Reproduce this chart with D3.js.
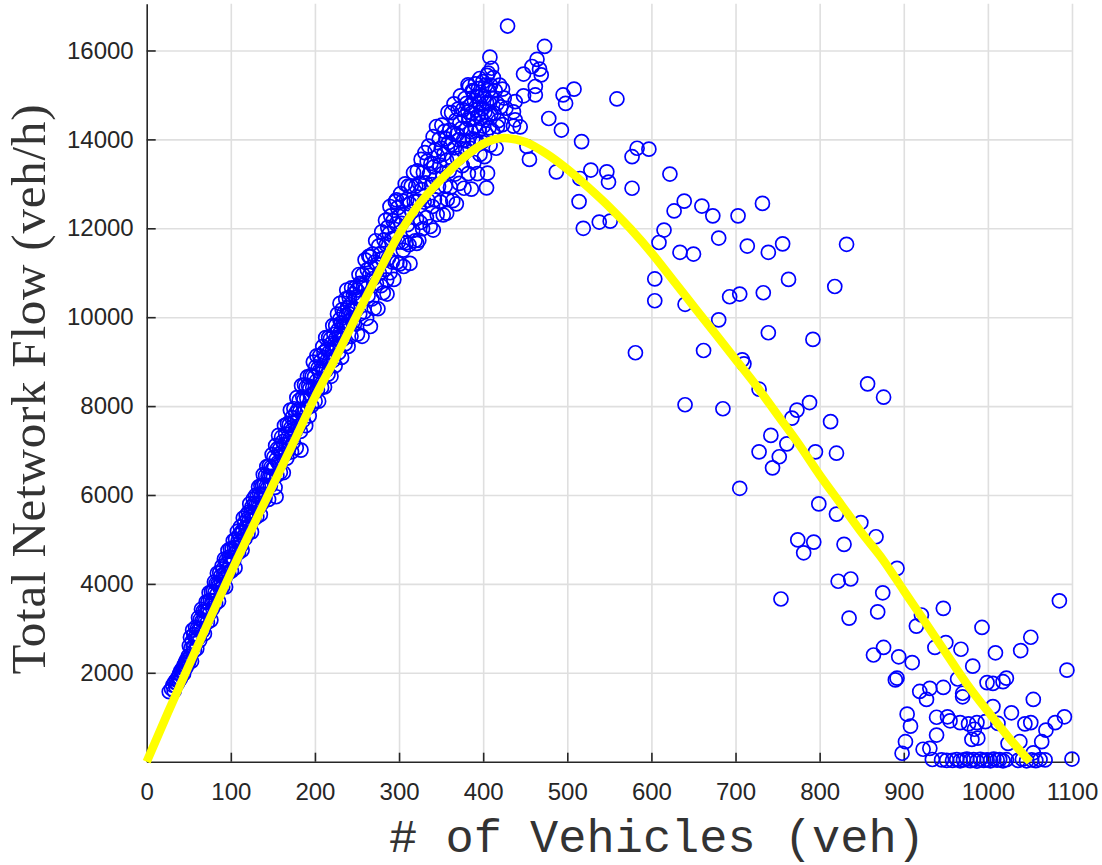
<!DOCTYPE html>
<html>
<head>
<meta charset="utf-8">
<script src="https://cdn.jsdelivr.net/npm/d3@7"></script>
<style>
  html, body { margin: 0; padding: 0; background: #ffffff; }
  svg { display: block; }
</style>
</head>
<body>
<svg id="chart" width="1102" height="865"></svg>
<script>
// Axis tick values
const xTickValues = [0, 100, 200, 300, 400, 500, 600, 700, 800, 900, 1000, 1100];
const yTickValues = [2000, 4000, 6000, 8000, 10000, 12000, 14000, 16000];

// Fitted macroscopic fundamental diagram (vehicles, veh/h)
const fitVehicles = [0, 25, 50, 75, 100, 125, 150, 175, 200, 225, 250, 275, 300, 325, 350, 375, 400, 425,
  450, 475, 500, 525, 550, 575, 600, 625, 650, 675, 700, 725, 750, 775, 800, 825, 850, 875, 900, 925,
  950, 975, 1000, 1025, 1050];
const fitFlow = [0, 1095, 2160, 3210, 4250, 5245, 6220, 7200, 8200, 9100, 10050, 10975, 11870, 12570, 13100,
  13560, 13900, 14030, 13940, 13680, 13330, 12920, 12480, 11990, 11450, 10850, 10250, 9650, 9050, 8450,
  7800, 7150, 6450, 5800, 5150, 4550, 3850, 3150, 2450, 1750, 1130, 540, 0];

// Observed samples on the loading branch [vehicles, flow]
const loadingSamples = [
  [26.8,1575],[29.5,1640],[31.0,1720],[32.6,1590],[33.4,1790],[34.5,1700],[35.6,1850],[36.3,1760],[37.4,1900],
  [38.2,1820],[39.1,1980],[39.9,1870],[40.8,2050],[41.5,1930],[42.3,2010],[43.2,2110],[43.9,1980],[44.7,2180],
  [45.5,2090],[46.2,2240],[47.0,2130],[47.8,2300],[48.5,2200],[49.3,2370],[50.0,2250],
  [50.7,2610],[51.3,2335],[52.0,2800],[52.6,2550],[53.3,2260],[54.0,2710],[54.6,2960],[55.3,2570],[56.0,2860],
  [56.7,2500],[57.4,2800],[58.1,3020],[58.8,2760],[59.5,2540],
  [60.2,2990],[60.9,2770],[61.6,3240],[62.3,2980],[63.0,2730],[63.7,3200],[64.4,3000],[65.1,3430],[65.8,3170],
  [66.5,2940],[67.2,3390],[67.9,3180],[68.6,2880],[69.3,3390],
  [70.0,3180],[70.7,3590],[71.4,3380],[72.1,3130],[72.8,3590],[73.5,3400],[74.2,3800],[74.9,3340],[75.6,3630],
  [76.3,3185],[77.0,3820],[77.7,3610],[78.4,3450],[79.1,3830],[79.8,3620],
  [80.5,4040],[81.2,3810],[81.9,3560],[82.6,4010],[83.3,3760],[84.0,4240],[84.7,4000],[85.4,3610],[86.1,3970],
  [86.8,4250],[87.5,3890],[88.2,4180],[88.9,4030],[89.6,4400],
  [90.3,3930],[91.0,4340],[91.7,4220],[92.4,4560],[93.1,4140],[93.8,3930],[94.5,4530],[95.2,4310],[95.9,4460],
  [96.6,4750],[97.3,4250],[98.0,4600],[98.7,4420],[99.4,4790],
  [100.1,4580],[100.8,4290],[101.5,4790],[102.2,4590],[102.9,4970],[103.6,4530],[104.3,4820],[105.0,4360],
  [105.7,5010],[106.4,4810],[107.1,4720],[107.8,5180],[108.5,4960],[109.2,4700],[109.9,5100],
  [110.6,4930],[111.3,5280],[112.0,4860],[112.7,5170],[113.4,4760],[114.1,5160],[114.8,5480],[115.5,5070],
  [116.2,5370],[116.9,5020],[117.6,5270],[118.3,5540],[119.0,5240],[119.7,5460],
  [120.4,5130],[121.1,5610],[121.8,5420],[122.5,5800],[123.2,5340],[123.9,5590],[124.6,5170],[125.3,5740],
  [126.0,5530],[126.7,5910],[127.4,5460],[128.1,5810],[128.8,5600],[129.5,5990],
  [130.2,5780],[130.9,5510],[131.6,5970],[132.3,5770],[133.0,6180],[133.7,5730],[134.4,6020],[135.1,5560],
  [135.8,6210],[136.5,5980],[137.2,5820],[137.9,6210],[138.6,6460],[139.3,6020],
  [140.0,6230],[140.7,5930],[141.4,6440],[142.1,6190],[142.8,6640],[143.5,6150],[144.2,6420],[144.9,5900],
  [145.6,6650],[146.3,6410],[147.0,6210],[147.7,6620],[148.4,6420],[149.1,6910],[149.8,6590],
  [150.5,6390],[151.2,6850],[151.9,6620],[152.6,6170],[153.3,7110],[153.8,5960],[154.0,6800],[154.7,6440],
  [155.4,7040],[156.1,6730],[156.8,7340],[157.5,6700],[158.2,7040],[158.9,6510],[159.6,6950],
  [160.3,7300],[161.0,6890],[161.7,7200],[162.4,6500],[163.1,7140],[163.8,7560],[164.5,6910],[165.2,7370],
  [165.9,7140],[166.6,6830],[167.3,7600],[168.0,7300],[168.7,7040],[169.4,7580],
  [170.1,7250],[170.8,7910],[171.5,7510],[172.2,6970],[172.9,7740],[173.6,7470],[174.3,7190],[175.0,7940],
  [175.7,7640],[176.4,7430],[177.1,7840],[177.8,7060],[178.5,8190],[179.2,7670],[179.9,7920],
  [180.6,7550],[181.3,8130],[182.0,7880],[182.7,7430],[183.4,7010],[184.1,8460],[184.8,7840],[185.5,8210],
  [186.2,7680],[186.9,8140],[187.6,8480],[188.3,7930],[189.0,7560],[189.7,8430],
  [190.4,8170],[191.1,8660],[191.8,7970],[192.5,8450],[193.2,7780],[193.9,8390],[194.6,8680],[195.3,8230],
  [196.0,8010],[196.7,8670],[197.4,8420],[198.1,8990],[198.8,8300],[199.5,8660],
  [200.2,8110],[200.9,8880],[201.6,8560],[202.3,9130],[203.0,8360],[203.7,8850],[204.4,8110],[205.1,8780],
  [205.8,9130],[206.5,8610],[207.2,9020],[207.9,8420],[208.6,8850],[209.3,9340],
  [210.0,8800],[210.7,9210],[211.4,8430],[212.1,9090],[212.8,9540],[213.5,8810],[214.2,9280],[214.9,9040],
  [215.6,8720],[216.3,9540],[217.0,9210],[217.7,9020],[218.4,9510],[219.1,8670],[219.8,9410],
  [220.5,9220],[221.2,9810],[221.9,9030],[222.6,9610],[223.3,9390],[224.0,8910],[224.7,9810],[225.4,9540],
  [226.1,9300],[226.8,10070],[227.5,9710],[228.2,9200],[228.9,9620],[229.6,9950],[229.8,10312],
  [230.3,9490],[231.0,9870],[231.7,9095],[232.4,10170],[233.1,9820],[233.8,9510],[234.5,10100],[235.2,9810],
  [235.9,9400],[236.6,10410],[237.3,10040],[237.8,10612],[238.0,9810],[238.7,10210],[239.4,9340],
  [240.1,10080],[240.8,10440],[241.5,9840],[242.2,10280],[242.9,9570],[243.6,10660],[244.3,10180],[245.0,9890],
  [245.7,10520],[246.4,10190],[247.1,9860],[247.8,10660],[248.5,10440],[249.2,10170],[249.9,10610],
  [250.6,9620],[251.5,10410],[252.4,10960],[253.3,10070],[253.6,10760],[254.2,10730],[255.1,10390],[256.0,9570],
  [256.9,10960],[257.8,10720],[258.7,10120],[259.6,11290],
  [260.5,10640],[261.4,9970],[262.3,11070],[263.2,10490],[264.1,11370],[265.0,10940],[265.5,11360],[265.9,9790],
  [266.8,11120],[267.7,10410],[268.6,11420],[269.5,10870],
  [270.4,10200],[271.3,11240],[272.2,11720],[273.1,10760],[274.0,11190],[274.9,10190],[275.8,11600],
  [276.7,10990],[277.6,11420],[278.5,10710],[279.4,11920],
  [280.3,11320],[281.2,10550],[282.1,11740],[283.0,11070],[283.9,12180],[284.8,11630],[285.3,10840],
  [285.7,10520],[286.6,12020],[287.5,11330],[288.4,11880],[289.2,12490],[289.3,11000],
  [290.2,12280],[291.1,11760],[292.0,11240],[292.9,12170],[293.8,10850],[294.7,11790],[295.6,12600],
  [296.5,12100],[297.0,12640],[297.4,11230],[298.3,12460],[299.2,11690],
  [300.1,12270],[301.0,11200],[301.9,12780],[302.8,12110],[303.7,11690],[304.6,12610],[305.0,11510],
  [305.5,11140],[306.4,12320],[307.3,13000],[308.2,11670],[309.1,12650],
  [310.0,12080],[310.9,12950],[311.8,11630],[312.7,12550],[313.0,11210],[314.5,12950],[315.4,12380],
  [316.3,11950],[317.2,13250],[318.1,12600],[319.0,11720],[319.9,12950],
  [320.8,12220],[321.0,11660],[321.7,13290],[322.6,12610],[323.5,11730],[324.4,13010],[325.3,12130],
  [326.2,13550],[327.1,12870],[328.0,11990],[328.9,13260],[329.8,12590],
  [330.7,13700],[331.6,13020],[332.5,12240],[333.4,13510],[334.3,12630],[335.2,13850],[336.1,13220],
  [337.0,12040],[337.9,13460],[338.8,12980],[339.7,12490],
  [340.5,14060],[340.7,11960],[341.3,13380],[342.1,12640],[342.9,13760],[343.7,13120],[344.5,14290],
  [345.3,12310],[346.1,13620],[346.9,12940],[347.7,14000],[348.5,13420],[349.3,12590],
  [350.1,13800],[350.9,14320],[351.7,13230],[352.5,12300],[353.3,13670],[354.1,14180],[354.9,12950],
  [355.7,14010],[356.5,13530],[356.6,12340],[357.3,12650],[358.1,14610],[358.9,13930],[359.7,13290],
  [360.4,14210],[361.1,12920],[361.8,13880],[362.5,14600],[363.2,13560],[363.9,12620],[364.6,14130],
  [365.3,14800],[366.0,13810],[366.7,13220],[367.4,14430],[368.1,12550],[368.8,14110],[369.5,13570],
  [370.2,14680],[370.9,13990],[371.6,13010],[372.3,14370],[373.0,14980],[373.7,13790],[374.4,14250],
  [375.1,13410],[375.8,14670],[376.5,13980],[377.2,12900],[377.9,14510],[378.6,14920],[379.3,13780],
  [380.0,14240],[380.4,14810],[381.2,13960],[381.8,14620],[382.0,15225],[382.4,13230],[383.0,14440],
  [383.6,15190],[384.2,13800],[384.8,14760],[385.4,14170],[386.0,12880],[386.6,14590],[387.2,15100],
  [387.8,14010],[388.0,15075],[388.4,14470],[389.0,13480],[389.6,14880],
  [390.2,14290],[390.8,15250],[391.4,14660],[392.0,13960],[392.6,14970],[393.2,13230],[393.8,14530],
  [394.4,15140],[395.0,14200],[395.6,14800],[396.2,13660],[397.4,14470],[398.0,14980],[398.6,13940],
  [399.2,14690],[399.8,15300],
  [400.4,14300],[401.0,14960],[401.6,13610],[402.2,14620],[402.8,15220],[403.4,14130],[404.0,14830],
  [404.6,15440],[405.2,13240],[405.8,14500],[406.4,15100],[407.0,14260],[407.6,14810],[408.2,13870],
  [408.8,15220],[409.4,14580],
  [410.3,14930],[411.2,14190],[412.1,15390],[413.0,14590],[414.2,15100],[415.4,13800],[416.6,14810],
  [418.0,14420],[419.5,15220],[421.0,14730],[423.0,14330],[425.0,14930]
];

// Observed samples around capacity and on the congested branch [vehicles, flow]
const congestedSamples = [
  [429,16550],[473,16090],[408,15850],[464,15800],[458,15640],[467,15580],[410,15600],[406,15490],[448,15470],
  [469,15450],[396,15370],[423,15130],[462,15190],[462,15000],[448,14980],[438,14850],[427,14700],[436,14620],
  [438,14440],[436,14300],[444,14280],[417,14290],[478,14470],[493,14210],[508,15130],[495,15000],[498,14810],
  [517,13950],[559,14910],[452,13840],[455,13550],[487,13270],[528,13310],[547,13270],[515,13120],[549,13040],
  [514,12600],[519,12000],[538,12140],[551,12160],[404,12910],
  [583,13800],[597,13780],[577,13610],[622,13220],[577,12900],[639,12610],[627,12390],[660,12500],[673,12280],
  [703,12280],[732,12560],[615,11960],[609,11680],[680,11780],[634,11460],[650,11420],[714,11600],[739,11460],
  [756,11650],[604,10860],[604,10370],[640,10290],[693,10460],[705,10520],[733,10550],[680,9940],[739,9650],
  [581,9200],[662,9250],[708,9040],[710,8950],[728,8380],[640,8030],[685,7940],
  [832,11640],[763,10850],[818,10690],[792,9500],[857,8500],[876,8200],[773,7910],[767,7730],[788,8080],
  [813,7650],
  [742,7340],[728,6970],[752,6860],[744,6610],[761,7150],[795,6970],[820,6940],[705,6150],[799,5800],
  [820,5570],[849,5380],[867,5060],[774,4990],[793,4940],[781,4700],[829,4890],[892,4350],[822,4060],
  [837,4110],[875,3800],[754,3660],[869,3370],[835,3230],
  [921,3300],[915,3050],[947,3450],[993,3020],[1051,2800],[1085,3620],[864,2400],[876,2570],[894,2360],
  [910,2230],[937,2570],[950,2680],[968,2530],[1009,2450],[1039,2500],[1094,2060],[982,2150],[892,1880],
  [890,1840],[964,1860],[999,1780],[1006,1760],[1018,1800],[1022,1880],[919,1580],[931,1650],[927,1400],
  [947,1670],[970,1540],[970,1460],[1054,1400],[1006,1240],[1028,1100],[904,1070],[908,800],[939,1000],
  [952,1010],[955,920],[967,880],[977,850],[987,880],[997,900],[1012,860],[1044,850],[1051,880],[1080,880],
  [1091,1010],[1069,710],[939,600],[984,730],[988,530],[981,500],[902,450],[898,190],[923,280],[931,300],
  [1024,410],[1038,450],[1064,450],[1054,200],[934,50],[945,40],[951,30],[1100,60],[1068,40],
  [958,30],[963,50],[967,20],[971,40],[975,60],[979,25],[983,45],[987,15],[991,55],[995,30],[999,40],
  [1003,20],[1007,60],[1011,35],[1014,50],[1018,20],[1022,45],[1036,30],[1041,55],[1046,20],[1052,40],
  [1057,25],[1062,50]
];

const svg = d3.select("#chart");

const x = d3.scaleLinear().domain([0, 1100]).range([146.7, 1072]);
const y = d3.scaleLinear().domain([0, 17050]).range([761.7, 3.8]);

const tickFont = "'Liberation Sans', Arial, Helvetica, sans-serif";
const ink = "#262626";

// Grid lines
svg.append("g")
  .attr("transform", `translate(0,${y(0)})`)
  .call(d3.axisBottom(x).tickValues(xTickValues.slice(1)).tickSize(-(y(0) - y(17050))).tickFormat(""))
  .call(g => g.select(".domain").remove())
  .call(g => g.selectAll(".tick line").attr("stroke", "#dfdfdf").attr("stroke-width", 1.6));

svg.append("g")
  .attr("transform", `translate(${x(0)},0)`)
  .call(d3.axisLeft(y).tickValues(yTickValues).tickSize(-(x(1100) - x(0))).tickFormat(""))
  .call(g => g.select(".domain").remove())
  .call(g => g.selectAll(".tick line").attr("stroke", "#dfdfdf").attr("stroke-width", 1.6));

// Axes (inward ticks, left and bottom only)
const xAxis = svg.append("g")
  .attr("transform", `translate(0,${y(0)})`)
  .call(d3.axisBottom(x).tickValues(xTickValues).tickSizeInner(-9).tickSizeOuter(0).tickPadding(21)
    .tickFormat(d => String(d)));

const yAxis = svg.append("g")
  .attr("transform", `translate(${x(0)},0)`)
  .call(d3.axisLeft(y).tickValues(yTickValues).tickSizeInner(-9).tickSizeOuter(0).tickPadding(13)
    .tickFormat(d => String(d)));

[xAxis, yAxis].forEach(g => {
  g.select(".domain").attr("stroke", ink).attr("stroke-width", 1.6);
  g.selectAll(".tick line").attr("stroke", ink).attr("stroke-width", 1.6);
  g.selectAll(".tick text")
    .attr("fill", ink)
    .style("font-family", tickFont)
    .style("font-size", "24px");
});

// Samples as open circles
const samples = loadingSamples.concat(congestedSamples);
svg.append("g")
  .selectAll("circle")
  .data(samples)
  .join("circle")
  .attr("cx", d => x(d[0]))
  .attr("cy", d => y(d[1]))
  .attr("r", 7)
  .attr("fill", "none")
  .attr("stroke", "#0000ff")
  .attr("stroke-width", 1.7);

// Fitted curve
const fitLine = d3.line()
  .x((d, i) => x(fitVehicles[i]))
  .y(d => y(d))
  .curve(d3.curveMonotoneX);

svg.append("path")
  .datum(fitFlow)
  .attr("d", fitLine)
  .attr("fill", "none")
  .attr("stroke", "#ffff00")
  .attr("stroke-width", 8.5);

// Axis titles
svg.append("text")
  .attr("x", 657)
  .attr("y", 852)
  .attr("text-anchor", "middle")
  .attr("fill", "#333333")
  .style("font-family", "'Liberation Mono', 'Courier New', monospace")
  .style("font-size", "47px")
  .text("# of Vehicles (veh)");

svg.append("text")
  .attr("transform", "translate(44.5,389.5) rotate(-90)")
  .attr("text-anchor", "middle")
  .attr("textLength", 570)
  .attr("lengthAdjust", "spacing")
  .attr("fill", "#333333")
  .style("font-family", "'Liberation Serif', 'Times New Roman', serif")
  .style("font-size", "49px")
  .text("Total Network Flow (veh/h)");
</script>
</body>
</html>
